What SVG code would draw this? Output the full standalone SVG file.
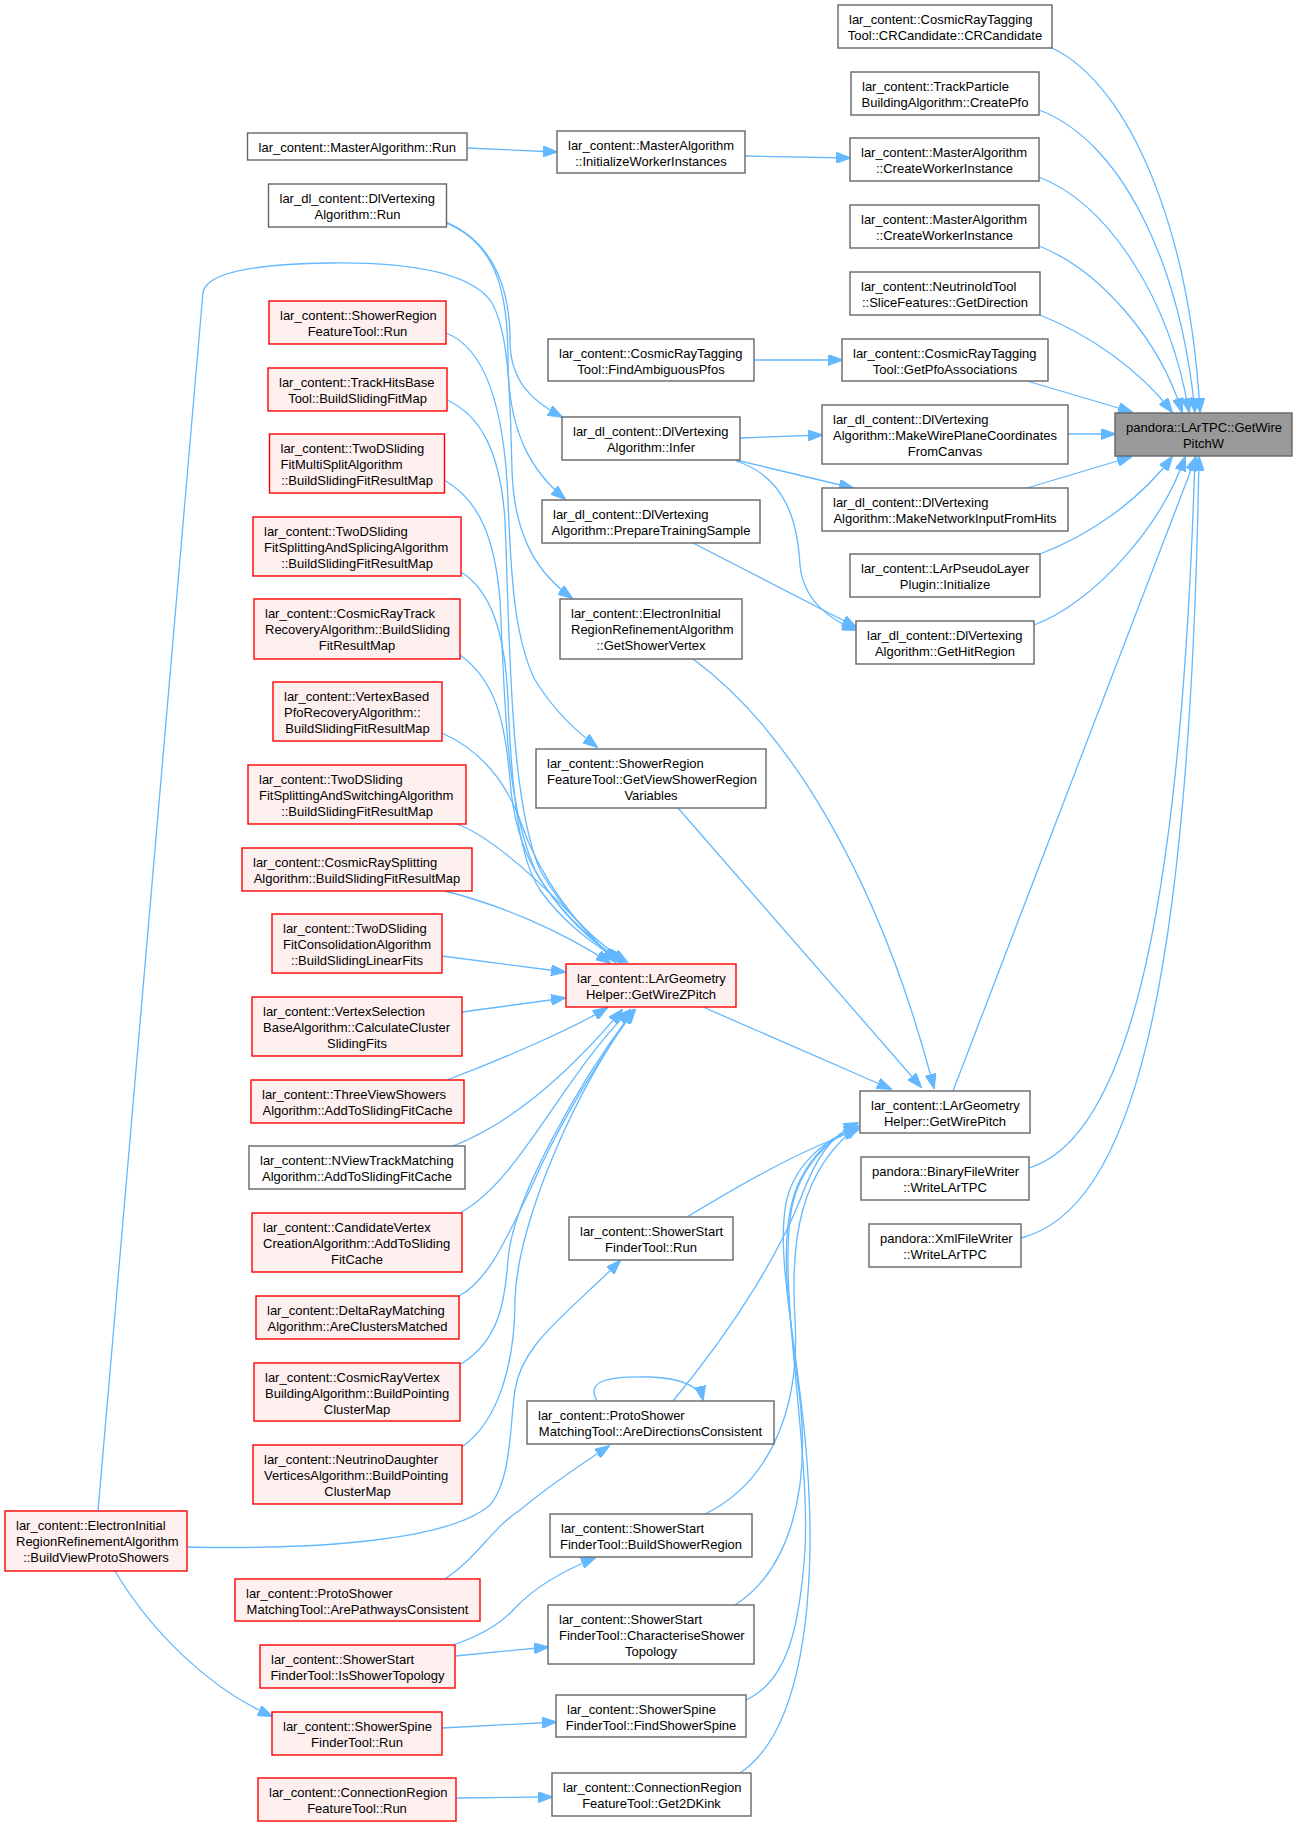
<svg xmlns="http://www.w3.org/2000/svg" width="1297" height="1827" viewBox="0 0 1297 1827">
<style>
text{font-family:"Liberation Sans",Arial,sans-serif;font-size:13px;fill:#000}
.n rect{fill:#fff;stroke:#666;stroke-width:1.4}
.r rect{fill:#fff0f0;stroke:#f00;stroke-width:1.4}
.t rect{fill:#999;stroke:#666;stroke-width:1.4}
.m{text-anchor:middle}
#edges path{fill:none;stroke:#63b8ff;stroke-width:1.3;marker-end:url(#ah)}
</style>
<defs>
<marker id="ah" markerWidth="15" markerHeight="11" refX="14" refY="5.5" orient="auto" markerUnits="userSpaceOnUse"><path d="M0,0 L15,5.5 L0,11 z" fill="#63b8ff" stroke="#63b8ff" stroke-width="1"/></marker>
</defs>
<rect width="1297" height="1827" fill="#fff"/>
<g id="edges">
<path d="M1052,48 C1130,85 1190,230 1200,412"/>
<path d="M1039,110 C1120,140 1180,260 1195,412"/>
<path d="M1039,177 C1110,205 1170,300 1189,412"/>
<path d="M1039,246 C1100,270 1160,340 1182,412"/>
<path d="M1040,315 C1090,335 1140,370 1172,412"/>
<path d="M1027,381 L1132,412"/>
<path d="M1068,434 L1115,434"/>
<path d="M1027,488 L1131,457"/>
<path d="M1040,554 C1090,535 1140,500 1172,457"/>
<path d="M1034,625 C1090,605 1160,530 1185,457"/>
<path d="M953,1091 L1196,457"/>
<path d="M1029,1168 C1120,1140 1180,950 1195,457"/>
<path d="M1021,1238 C1130,1210 1190,1000 1199,457"/>
<path d="M467,148 L557,152"/>
<path d="M745,156 L850,158"/>
<path d="M754,360 L842,360"/>
<path d="M740,438 L822,435"/>
<path d="M736,460 L853,488"/>
<path d="M736,461 C790,478 798,530 800,565 C803,600 830,620 856,630"/>
<path d="M693,543 L856,627"/>
<path d="M446,222 C500,245 510,300 510,340 C510,380 530,400 562,417"/>
<path d="M446,223 C500,245 508,300 508,360 C508,430 530,470 565,499"/>
<path d="M98,1511 L203,292 C207,275 245,264 330,263 C420,262 470,275 490,300 C510,330 510,400 512,470 C514,540 540,575 572,598"/>
<path d="M446,333 C490,350 505,420 508,500 C511,580 515,640 535,680 C555,712 575,730 597,747"/>
<path d="M693,659 C790,730 880,880 934,1088"/>
<path d="M678,808 L921,1087"/>
<path d="M703,1007 L891,1089"/>
<path d="M687,1217 C740,1185 800,1150 858,1130"/>
<path d="M673,1401 C740,1320 780,1250 800,1200 C815,1160 830,1135 858,1123"/>
<path d="M705,1514 C775,1480 800,1400 795,1320 C790,1240 800,1170 858,1126"/>
<path d="M735,1605 C790,1570 810,1490 800,1400 C790,1320 775,1230 800,1180 C815,1150 835,1135 858,1127"/>
<path d="M746,1700 C790,1680 800,1620 805,1550 C810,1450 780,1300 790,1220 C795,1170 830,1135 858,1128"/>
<path d="M740,1773 C790,1740 808,1650 810,1550 C812,1400 775,1280 785,1210 C790,1165 830,1135 858,1129"/>
<path d="M597,1401 C585,1380 610,1376 650,1377 C680,1378 700,1386 703,1400"/>
<path d="M445,1579 C480,1555 490,1530 520,1510 C550,1485 580,1465 609,1446"/>
<path d="M453,1645 C480,1636 500,1625 515,1608 C535,1587 560,1572 595,1558"/>
<path d="M455,1656 L548,1647"/>
<path d="M442,1728 L556,1722"/>
<path d="M456,1798 L552,1797"/>
<path d="M115,1571 C150,1630 210,1690 272,1716"/>
<path d="M187,1547 C320,1550 450,1540 490,1505 C512,1480 510,1420 515,1390 C522,1345 560,1320 620,1261"/>
<path d="M447,1080 C500,1060 570,1030 607,1008"/>
<path d="M453,1146 C520,1120 580,1060 622,1010"/>
<path d="M460,1213 C520,1180 560,1080 630,1010"/>
<path d="M459,1296 C490,1280 510,1230 530,1190 C560,1120 600,1060 633,1010"/>
<path d="M461,1364 C500,1340 505,1300 508,1260 C512,1200 580,1080 634,1010"/>
<path d="M462,1447 C500,1420 515,1360 515,1300 C517,1220 580,1080 635,1010"/>
<path d="M447,400 C480,415 500,450 505,520 C510,650 510,800 540,870 C565,915 600,945 627,962"/>
<path d="M444,480 C480,500 495,540 500,600 C505,700 505,800 535,870 C560,915 595,945 624,962"/>
<path d="M461,572 C490,590 505,630 508,700 C512,800 520,860 540,890 C565,925 595,945 622,962"/>
<path d="M460,655 C495,680 505,720 510,780 C515,850 540,900 620,962"/>
<path d="M442,733 C480,750 505,780 520,820 C540,880 580,930 618,962"/>
<path d="M457,824 C500,840 560,900 615,962"/>
<path d="M445,891 C500,905 560,930 610,963"/>
<path d="M442,956 L565,972"/>
<path d="M462,1012 L565,998"/>
</g>
<g id="n1" class="n"><rect x="838" y="5" width="214" height="43"/><text x="849" y="24">lar_content::CosmicRayTagging</text><text class="m" x="945" y="40">Tool::CRCandidate::CRCandidate</text></g>
<g id="n2" class="n"><rect x="851" y="72" width="188" height="43"/><text x="862" y="91">lar_content::TrackParticle</text><text class="m" x="945" y="107">BuildingAlgorithm::CreatePfo</text></g>
<g id="n3" class="n"><rect x="850" y="138" width="189" height="43"/><text x="861" y="157">lar_content::MasterAlgorithm</text><text class="m" x="944.5" y="173">::CreateWorkerInstance</text></g>
<g id="n4" class="n"><rect x="850" y="205" width="189" height="43"/><text x="861" y="224">lar_content::MasterAlgorithm</text><text class="m" x="944.5" y="240">::CreateWorkerInstance</text></g>
<g id="n5" class="n"><rect x="850" y="272" width="190" height="43"/><text x="861" y="291">lar_content::NeutrinoIdTool</text><text class="m" x="945" y="307">::SliceFeatures::GetDirection</text></g>
<g id="n6" class="n"><rect x="842" y="339" width="206" height="42"/><text x="853" y="358">lar_content::CosmicRayTagging</text><text class="m" x="945" y="374">Tool::GetPfoAssociations</text></g>
<g id="n7" class="n"><rect x="822" y="405" width="246" height="59"/><text x="833" y="424">lar_dl_content::DlVertexing</text><text x="833" y="440">Algorithm::MakeWirePlaneCoordinates</text><text class="m" x="945" y="456">FromCanvas</text></g>
<g id="n8" class="t"><rect x="1115" y="413" width="177" height="43"/><text x="1126" y="432">pandora::LArTPC::GetWire</text><text class="m" x="1203.5" y="448">PitchW</text></g>
<g id="n9" class="n"><rect x="822" y="488" width="246" height="43"/><text x="833" y="507">lar_dl_content::DlVertexing</text><text class="m" x="945" y="523">Algorithm::MakeNetworkInputFromHits</text></g>
<g id="n10" class="n"><rect x="850" y="554" width="190" height="43"/><text x="861" y="573">lar_content::LArPseudoLayer</text><text class="m" x="945" y="589">Plugin::Initialize</text></g>
<g id="n11" class="n"><rect x="856" y="621" width="178" height="43"/><text x="867" y="640">lar_dl_content::DlVertexing</text><text class="m" x="945" y="656">Algorithm::GetHitRegion</text></g>
<g id="n12" class="n"><rect x="860" y="1091" width="170" height="42"/><text x="871" y="1110">lar_content::LArGeometry</text><text class="m" x="945" y="1126">Helper::GetWirePitch</text></g>
<g id="n13" class="n"><rect x="861" y="1157" width="168" height="43"/><text x="872" y="1176">pandora::BinaryFileWriter</text><text class="m" x="945" y="1192">::WriteLArTPC</text></g>
<g id="n14" class="n"><rect x="869" y="1224" width="152" height="43"/><text x="880" y="1243">pandora::XmlFileWriter</text><text class="m" x="945" y="1259">::WriteLArTPC</text></g>
<g id="n15" class="n"><rect x="557" y="131" width="188" height="42"/><text x="568" y="150">lar_content::MasterAlgorithm</text><text class="m" x="651" y="166">::InitializeWorkerInstances</text></g>
<g id="n16" class="n"><rect x="548" y="339" width="206" height="42"/><text x="559" y="358">lar_content::CosmicRayTagging</text><text class="m" x="651" y="374">Tool::FindAmbiguousPfos</text></g>
<g id="n17" class="n"><rect x="562" y="417" width="178" height="43"/><text x="573" y="436">lar_dl_content::DlVertexing</text><text class="m" x="651" y="452">Algorithm::Infer</text></g>
<g id="n18" class="n"><rect x="542" y="500" width="218" height="43"/><text x="553" y="519">lar_dl_content::DlVertexing</text><text class="m" x="651" y="535">Algorithm::PrepareTrainingSample</text></g>
<g id="n19" class="n"><rect x="560" y="599" width="182" height="60"/><text x="571" y="618">lar_content::ElectronInitial</text><text x="571" y="634">RegionRefinementAlgorithm</text><text class="m" x="651" y="650">::GetShowerVertex</text></g>
<g id="n20" class="n"><rect x="536" y="749" width="230" height="59"/><text x="547" y="768">lar_content::ShowerRegion</text><text x="547" y="784">FeatureTool::GetViewShowerRegion</text><text class="m" x="651" y="800">Variables</text></g>
<g id="n21" class="r"><rect x="566" y="964" width="170" height="43"/><text x="577" y="983">lar_content::LArGeometry</text><text class="m" x="651" y="999">Helper::GetWireZPitch</text></g>
<g id="n22" class="n"><rect x="569" y="1217" width="164" height="43"/><text x="580" y="1236">lar_content::ShowerStart</text><text class="m" x="651" y="1252">FinderTool::Run</text></g>
<g id="n23" class="n"><rect x="527" y="1401" width="247" height="43"/><text x="538" y="1420">lar_content::ProtoShower</text><text class="m" x="650.5" y="1436">MatchingTool::AreDirectionsConsistent</text></g>
<g id="n24" class="n"><rect x="550" y="1514" width="202" height="43"/><text x="561" y="1533">lar_content::ShowerStart</text><text class="m" x="651" y="1549">FinderTool::BuildShowerRegion</text></g>
<g id="n25" class="n"><rect x="548" y="1605" width="206" height="59"/><text x="559" y="1624">lar_content::ShowerStart</text><text x="559" y="1640">FinderTool::CharacteriseShower</text><text class="m" x="651" y="1656">Topology</text></g>
<g id="n26" class="n"><rect x="556" y="1695" width="190" height="42"/><text x="567" y="1714">lar_content::ShowerSpine</text><text class="m" x="651" y="1730">FinderTool::FindShowerSpine</text></g>
<g id="n27" class="n"><rect x="552" y="1773" width="199" height="43"/><text x="563" y="1792">lar_content::ConnectionRegion</text><text class="m" x="651.5" y="1808">FeatureTool::Get2DKink</text></g>
<g id="n28" class="n"><rect x="247.5" y="133" width="219.5" height="27"/><text class="m" x="357.25" y="152">lar_content::MasterAlgorithm::Run</text></g>
<g id="n29" class="n"><rect x="268.5" y="184" width="178" height="43"/><text x="279.5" y="203">lar_dl_content::DlVertexing</text><text class="m" x="357.5" y="219">Algorithm::Run</text></g>
<g id="n30" class="r"><rect x="269" y="301" width="177" height="43"/><text x="280" y="320">lar_content::ShowerRegion</text><text class="m" x="357.5" y="336">FeatureTool::Run</text></g>
<g id="n31" class="r"><rect x="268" y="368" width="179" height="43"/><text x="279" y="387">lar_content::TrackHitsBase</text><text class="m" x="357.5" y="403">Tool::BuildSlidingFitMap</text></g>
<g id="n32" class="r"><rect x="269.5" y="434" width="175" height="59"/><text x="280.5" y="453">lar_content::TwoDSliding</text><text x="280.5" y="469">FitMultiSplitAlgorithm</text><text class="m" x="357" y="485">::BuildSlidingFitResultMap</text></g>
<g id="n33" class="r"><rect x="253" y="517" width="208" height="59"/><text x="264" y="536">lar_content::TwoDSliding</text><text x="264" y="552">FitSplittingAndSplicingAlgorithm</text><text class="m" x="357" y="568">::BuildSlidingFitResultMap</text></g>
<g id="n34" class="r"><rect x="254" y="599" width="206" height="60"/><text x="265" y="618">lar_content::CosmicRayTrack</text><text x="265" y="634">RecoveryAlgorithm::BuildSliding</text><text class="m" x="357" y="650">FitResultMap</text></g>
<g id="n35" class="r"><rect x="273" y="682" width="169" height="59"/><text x="284" y="701">lar_content::VertexBased</text><text x="284" y="717">PfoRecoveryAlgorithm::</text><text class="m" x="357.5" y="733">BuildSlidingFitResultMap</text></g>
<g id="n36" class="r"><rect x="248" y="765" width="218" height="59"/><text x="259" y="784">lar_content::TwoDSliding</text><text x="259" y="800">FitSplittingAndSwitchingAlgorithm</text><text class="m" x="357" y="816">::BuildSlidingFitResultMap</text></g>
<g id="n37" class="r"><rect x="242" y="848" width="230" height="43"/><text x="253" y="867">lar_content::CosmicRaySplitting</text><text class="m" x="357" y="883">Algorithm::BuildSlidingFitResultMap</text></g>
<g id="n38" class="r"><rect x="272" y="914" width="170" height="59"/><text x="283" y="933">lar_content::TwoDSliding</text><text x="283" y="949">FitConsolidationAlgorithm</text><text class="m" x="357" y="965">::BuildSlidingLinearFits</text></g>
<g id="n39" class="r"><rect x="252" y="997" width="210" height="59"/><text x="263" y="1016">lar_content::VertexSelection</text><text x="263" y="1032">BaseAlgorithm::CalculateCluster</text><text class="m" x="357" y="1048">SlidingFits</text></g>
<g id="n40" class="r"><rect x="251" y="1080" width="213" height="43"/><text x="262" y="1099">lar_content::ThreeViewShowers</text><text class="m" x="357.5" y="1115">Algorithm::AddToSlidingFitCache</text></g>
<g id="n41" class="n"><rect x="249" y="1146" width="216" height="43"/><text x="260" y="1165">lar_content::NViewTrackMatching</text><text class="m" x="357" y="1181">Algorithm::AddToSlidingFitCache</text></g>
<g id="n42" class="r"><rect x="252" y="1213" width="210" height="59"/><text x="263" y="1232">lar_content::CandidateVertex</text><text x="263" y="1248">CreationAlgorithm::AddToSliding</text><text class="m" x="357" y="1264">FitCache</text></g>
<g id="n43" class="r"><rect x="256" y="1296" width="203" height="43"/><text x="267" y="1315">lar_content::DeltaRayMatching</text><text class="m" x="357.5" y="1331">Algorithm::AreClustersMatched</text></g>
<g id="n44" class="r"><rect x="254" y="1363" width="206" height="58"/><text x="265" y="1382">lar_content::CosmicRayVertex</text><text x="265" y="1398">BuildingAlgorithm::BuildPointing</text><text class="m" x="357" y="1414">ClusterMap</text></g>
<g id="n45" class="r"><rect x="253" y="1445" width="209" height="59"/><text x="264" y="1464">lar_content::NeutrinoDaughter</text><text x="264" y="1480">VerticesAlgorithm::BuildPointing</text><text class="m" x="357.5" y="1496">ClusterMap</text></g>
<g id="n46" class="r"><rect x="5" y="1511" width="182" height="60"/><text x="16" y="1530">lar_content::ElectronInitial</text><text x="16" y="1546">RegionRefinementAlgorithm</text><text class="m" x="96" y="1562">::BuildViewProtoShowers</text></g>
<g id="n47" class="r"><rect x="235" y="1579" width="245" height="42"/><text x="246" y="1598">lar_content::ProtoShower</text><text class="m" x="357.5" y="1614">MatchingTool::ArePathwaysConsistent</text></g>
<g id="n48" class="r"><rect x="260" y="1645" width="195" height="43"/><text x="271" y="1664">lar_content::ShowerStart</text><text class="m" x="357.5" y="1680">FinderTool::IsShowerTopology</text></g>
<g id="n49" class="r"><rect x="272" y="1712" width="170" height="43"/><text x="283" y="1731">lar_content::ShowerSpine</text><text class="m" x="357" y="1747">FinderTool::Run</text></g>
<g id="n50" class="r"><rect x="258" y="1778" width="198" height="43"/><text x="269" y="1797">lar_content::ConnectionRegion</text><text class="m" x="357" y="1813">FeatureTool::Run</text></g>
</svg>
